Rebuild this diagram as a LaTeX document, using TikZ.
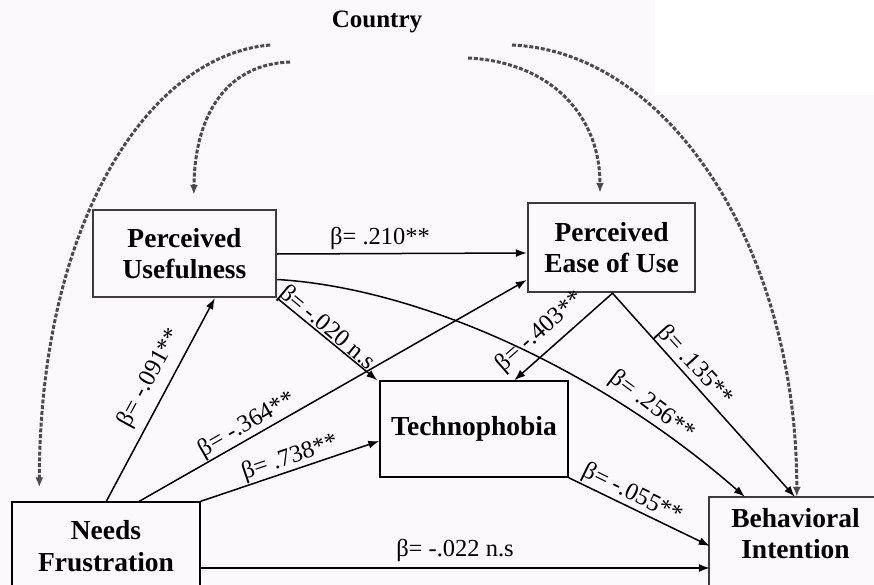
\documentclass[tikz,border=0pt]{standalone}
\usepackage{fontspec}
\setmainfont{Liberation Serif}
\usetikzlibrary{arrows.meta,calc}
\definecolor{bg}{RGB}{252,249,252}
\definecolor{dashc}{RGB}{75,75,75}
\definecolor{boxc}{RGB}{60,60,60}
\begin{document}
\begin{tikzpicture}[x=1pt,y=-1pt,
  boxtxt/.style={font=\fontsize{27.5}{31.5}\selectfont\bfseries, align=center},
  thickbox/.style={boxtxt, draw=boxc, line width=2.4pt, inner sep=0pt},
  thinbox/.style={boxtxt, draw=black, line width=1.4pt, inner sep=0pt},
  lbl/.style={font=\fontsize{24.5}{26}\selectfont, inner sep=0pt},
  arr/.style={line width=1.5pt, -{Latex[length=11pt,width=8pt]}},
  ctrl/.style={dashc, line width=3pt, dash pattern=on 4pt off 1.8pt, -{Latex[length=10pt,width=8pt]}}]
\fill[bg] (0,0) rectangle (874,585);
\fill[white] (655,0) rectangle (874,95);
\useasboundingbox (0,0) rectangle (874,585);

% nodes
\node[font=\fontsize{25}{27}\selectfont\bfseries] (country) at (377,22) {Country};
\node[thickbox, minimum width=183pt, minimum height=87pt] (pu) at (184.5,253.5) {Perceived\\Usefulness};
\node[thickbox, minimum width=167pt, minimum height=89pt] (peou) at (611.5,247.5) {Perceived\\Ease of Use};
\node[thinbox, minimum width=188pt, minimum height=96pt] (tech) at (474,429) {Technophobia};
\node[thinbox, minimum width=188pt, minimum height=88pt] (nf) at (106,546) {Needs\\Frustration};
\node[boxtxt, minimum width=171pt, minimum height=73pt, inner sep=0pt] (bi) at (795.5,533.5) {Behavioral\\Intention};
\draw[boxc, line width=2.4pt] ([xshift=-1pt]bi.north west) rectangle ([yshift=-40pt]bi.south east);

% country influences (dashed)
\coordinate (c1) at (270,45);
\coordinate (c2) at (290,62);
\coordinate (c3) at (468,58);
\coordinate (c4) at (512,45);
\draw[ctrl] (c1) .. controls (150,55) and (40,220) .. ([xshift=28pt,yshift=14pt]nf.north west);
\draw[ctrl] (c2) .. controls (230,64) and (195,110) .. ([xshift=102pt,yshift=14pt]pu.north west);
\draw[ctrl] (c3) .. controls (550,62) and (600,115) .. ([xshift=-11.5pt,yshift=9pt]peou.north);
\draw[ctrl] (c4) .. controls (670,52) and (797,250) .. ([xshift=87pt]bi.north west);

% paths
\draw[arr] ([yshift=-0.5pt]pu.east) -- ([yshift=-5.5pt]peou.west);
\draw[arr] ([yshift=-26pt]pu.east) .. controls (420,288) and (600,370) .. ([xshift=35pt]bi.north west);
\draw[arr] (pu.south east) -- ([xshift=-2pt]tech.north west);
\draw[arr] ([xshift=1pt]peou.south) -- ([xshift=135pt]tech.north west);
\draw[arr] ([xshift=1pt]peou.south) -- ([xshift=85pt]bi.north west);
\draw[arr] ([xshift=95pt]nf.north west) -- ([xshift=123pt]pu.south west);
\draw[arr] ([xshift=128pt]nf.north west) -- ([yshift=-32.5pt]peou.west);
\draw[arr] (nf.north east) -- ([yshift=-12pt]tech.west);
\draw[arr] ([yshift=-22pt]nf.east) -- ([yshift=-34.5pt]bi.west);
\draw[arr] (tech.south east) -- ([yshift=-12.5pt]bi.west);

% labels
\node[lbl] (l210) at (380,238) {β= .210**};
\node[lbl, rotate=-39.8] (l020) at (327,328) {β= -.020 n.s};
\node[lbl, rotate=-37] (l256) at (652,406) {β= .256**};
\node[lbl, rotate=41.3] (l403) at (540,332) {β= -.403**};
\node[lbl, rotate=-47.7] (l135) at (695,366) {β= .135**};
\node[lbl, rotate=61.3] (l091) at (150,378) {β= -.091**};
\node[lbl, rotate=30] (l364) at (247,425) {β= -.364**};
\node[lbl, rotate=18.7] (l738) at (290,458) {β= .738**};
\node[lbl] (l022) at (455,550) {β= -.022 n.s};
\node[lbl, rotate=-26.2] (l055) at (632,494) {β= -.055**};
\end{tikzpicture}
\end{document}
